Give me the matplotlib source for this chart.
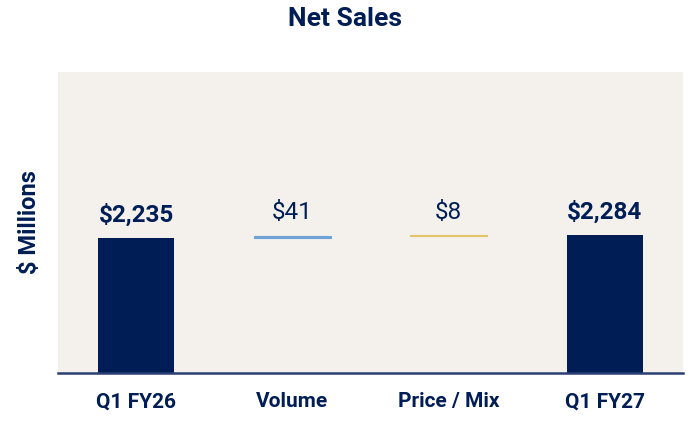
import matplotlib
matplotlib.use('Agg')
import matplotlib.pyplot as plt
import numpy as np

plt.rcParams['font.family'] = ['Roboto', 'DejaVu Sans']

# ── data ──
categories = ['Q1 FY26', 'Volume', 'Price / Mix', 'Q1 FY27']
values = [2235, 41, 8, 2284]
kinds = ['total', 'delta', 'delta', 'total']
labels = ['$2,235', '$41', '$8', '$2,284']

NAVY = '#001E55'
colors = [NAVY, '#6FA3D8', '#E3C46B', NAVY]

# waterfall bottoms
bottoms = []
running = 0
for v, k in zip(values, kinds):
    if k == 'total':
        bottoms.append(0)
        running = v
    else:
        bottoms.append(running)
        running += v

fig = plt.figure(figsize=(6.9, 4.22), dpi=100)
ax = fig.add_axes([58 / 690, 1 - 373 / 422, 625 / 690, 301 / 422])
ax.set_facecolor('#F4F1EC')

x = np.arange(len(categories))
for i, (v, b, k, c) in enumerate(zip(values, bottoms, kinds, colors)):
    if k == 'total':
        ax.bar(x[i], v, bottom=b, width=0.49, color=c, linewidth=0)
        ax.text(x[i], b + v + 190, labels[i], ha='center', va='bottom',
                fontsize=17.5, fontweight='bold', color=NAVY)
    else:
        ax.bar(x[i], v, bottom=b, width=0.49, color=c, edgecolor=c, linewidth=0.8)
        ax.text(x[i], b + v + 190, labels[i], ha='center', va='bottom',
                fontsize=17.5, color=NAVY)

ax.set_xlim(-0.5, 3.5)
ax.set_ylim(0, 4990)
ax.set_xticks(x)
ax.set_xticklabels(categories, fontsize=15, fontweight='bold', color=NAVY)
ax.tick_params(axis='x', length=0, pad=14)
ax.set_yticks([])
for s in ['top', 'right', 'left']:
    ax.spines[s].set_visible(False)
ax.spines['bottom'].set_color('#2B3F73')
ax.spines['bottom'].set_linewidth(1.8)

ax.set_ylabel('$ Millions', fontsize=17, fontweight='bold', color=NAVY, labelpad=12)
fig.text(0.5, 1 - 19 / 422, 'Net Sales', ha='center', va='center',
         fontsize=19, fontweight='bold', color=NAVY)

fig.savefig('out.png', dpi=100, facecolor='white')
plt.close(fig)
